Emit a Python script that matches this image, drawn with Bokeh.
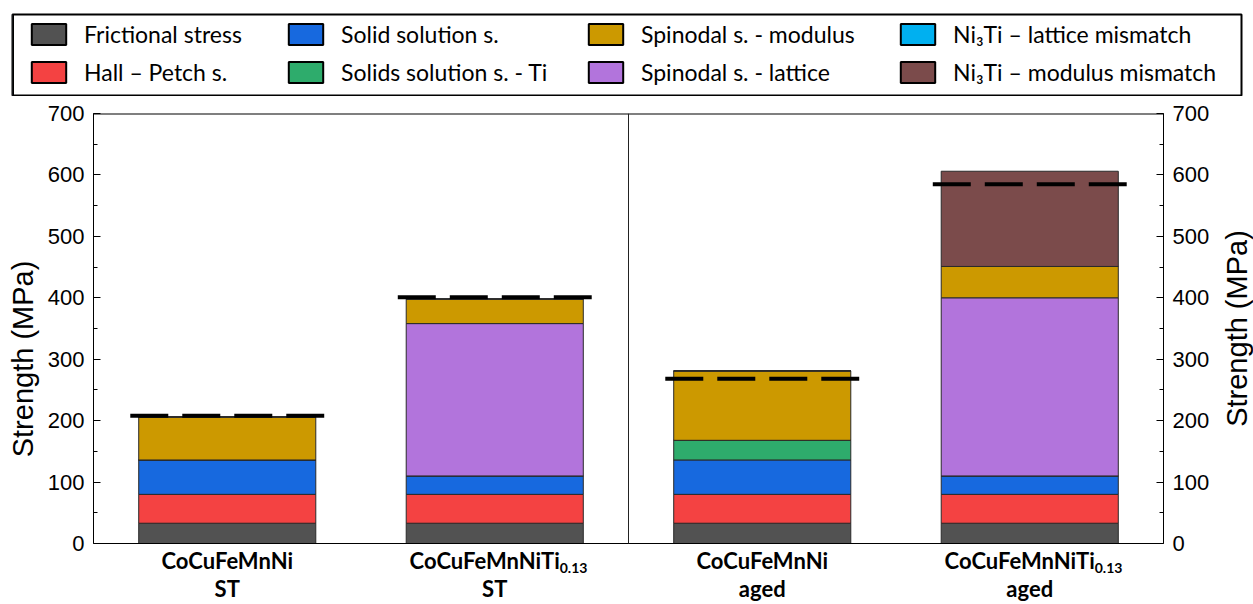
import math
import numpy as np
from bokeh.plotting import figure
from bokeh.models import (Range1d, LinearAxis, SingleIntervalTicker, Legend, LegendItem,
                          ColumnDataSource)
from bokeh.core.properties import value
from bokeh.layouts import column, row
from bokeh.embed import file_html
from bokeh.resources import INLINE

# ---------------- data ----------------
alloys = ["CoCuFeMnNi", "CoCuFeMnNiTi", "CoCuFeMnNi", "CoCuFeMnNiTi"]
alloy_sub = ["", "0.13", "", "0.13"]
states = ["ST", "ST", "aged", "aged"]

frictional = [33, 33, 33, 33]
hall_petch = [47, 47, 47, 47]
solid_sol = [56, 30, 56, 30]
solid_sol_ti = [0, 0, 32, 0]
spin_lattice = [0, 248, 0, 290]
spin_modulus = [70, 40, 113, 51]
ni3ti_lattice = [0, 0, 0, 0]
ni3ti_modulus = [0, 0, 0, 155]
experimental = [208, 401, 268, 585]

series_keys = ["frictional", "hall_petch", "solid_sol", "solid_sol_ti",
               "spin_lattice", "spin_modulus", "ni3ti_lattice", "ni3ti_modulus"]
series_labels = ["Frictional stress", "Hall \u2013 Petch s.", "Solid solution s.",
                 "Solids solution s. - Ti", "Spinodal s. - lattice",
                 "Spinodal s. - modulus", "Ni\u2083Ti \u2013 lattice mismatch",
                 "Ni\u2083Ti \u2013 modulus mismatch"]
series_colors = ["#525252", "#F44242", "#1769DF", "#2EAC6C",
                 "#B274DC", "#CC9900", "#00B0F0", "#7B4B4B"]
legend_order = [0, 1, 2, 3, 5, 4, 6, 7]

y_label = "Strength (MPa)"
y_ticks_interval = 100
y_max = 700

# ---------------- geometry (pixels) ----------------
W = 1253
LAB_W = 40               # strip holding the right-hand axis title
MAIN_W = W - LAB_W
MAIN_H = 508
TOP = 17
PX_ZERO = 430            # pixels from frame top to y = 0
FRAME_H = MAIN_H - TOP   # frame extends to canvas bottom (room for category labels)
px = y_max / PX_ZERO     # data units per pixel
y_min = -(FRAME_H - PX_ZERO) * px

# ---------------- main plot ----------------
n = len(alloys)
xc = np.arange(n) + 0.5
src = ColumnDataSource(dict(x=xc, frictional=frictional, hall_petch=hall_petch,
                            solid_sol=solid_sol, solid_sol_ti=solid_sol_ti,
                            spin_lattice=spin_lattice, spin_modulus=spin_modulus,
                            ni3ti_lattice=ni3ti_lattice, ni3ti_modulus=ni3ti_modulus))

yrange = Range1d(y_min, y_max)
p = figure(width=MAIN_W, height=MAIN_H, x_range=Range1d(0, n), y_range=yrange,
           output_backend="svg", toolbar_location=None, x_axis_type=None,
           min_border_left=93, min_border_right=MAIN_W - 93 - 1070, min_border_top=TOP,
           min_border_bottom=0, outline_line_color=None, frame_align=False)
p.grid.grid_line_color = None
p.background_fill_color = "white"

p.vbar_stack(series_keys, x="x", width=0.662, source=src,
             fill_color=series_colors, line_color="#2a2a2a", line_width=1)

p.segment(x0=xc - 0.3625, x1=xc + 0.3625, y0=experimental, y1=experimental,
          line_color="black", line_width=4, line_dash="38 14")

# frame box (top / bottom) and the centre divider
p.segment(x0=[0, 0], x1=[n, n], y0=[y_max, 0], y1=[y_max, 0],
          line_color="black", line_width=[2, 1])
p.segment(x0=[n / 2], x1=[n / 2], y0=[0], y1=[y_max], line_color="#222222", line_width=1)

ticker = SingleIntervalTicker(interval=y_ticks_interval, num_minor_ticks=2)
yl = p.yaxis[0]
yr = LinearAxis(ticker=ticker)
p.add_layout(yr, "right")
for ax in (yl, yr):
    ax.ticker = ticker
    ax.bounds = (0, y_max)
    ax.axis_label_text_font = "Liberation Sans"
    ax.axis_label_text_font_size = "29px"
    ax.axis_label_text_font_style = "normal"
    ax.axis_label_text_color = "black"
    ax.major_label_text_font = "Liberation Sans"
    ax.major_label_text_font_size = "22px"
    ax.major_label_text_color = "black"
    ax.major_label_standoff = 9
    ax.major_tick_in = 7
    ax.major_tick_out = 0
    ax.minor_tick_in = 4
    ax.minor_tick_out = 0
    ax.axis_line_color = "black"
    ax.major_tick_line_color = "black"
    ax.minor_tick_line_color = "black"
yl.axis_label = y_label
yl.axis_label_standoff = 6

# category labels (drawn below y = 0 inside the extended frame)
y_line1 = -17 * px
y_sub = -24 * px
y_line2 = -45 * px
main_idx = [i for i in range(n) if not alloy_sub[i]]
sub_idx = [i for i in range(n) if alloy_sub[i]]
common = dict(text_font=value("Lato"), text_font_style="bold", text_color="black",
              text_baseline="alphabetic")
p.text(x=xc[main_idx], y=[y_line1] * len(main_idx), text=[alloys[i] for i in main_idx],
       text_align="center", text_font_size="22px", **common)
p.text(x=xc[sub_idx], y=[y_line1] * len(sub_idx), text=[alloys[i] for i in sub_idx],
       text_align="right", x_offset=65, text_font_size="22px", **common)
p.text(x=xc[sub_idx], y=[y_sub] * len(sub_idx), text=[alloy_sub[i] for i in sub_idx],
       text_align="left", x_offset=65, text_font_size="14px", **common)
p.text(x=xc, y=[y_line2] * n, text=states, text_align="center",
       text_font_size="22px", **common)

# ---------------- right-hand axis title strip ----------------
lab = figure(width=LAB_W, height=MAIN_H, x_range=Range1d(0, LAB_W), y_range=yrange,
             x_axis_type=None, y_axis_type=None, output_backend="svg",
             toolbar_location=None, min_border_left=0, min_border_right=0,
             min_border_top=TOP, min_border_bottom=0, outline_line_color=None,
             frame_align=False)
lab.grid.grid_line_color = None
lab.text(x=[LAB_W - 17], y=[y_max / 2], text=[y_label], angle=math.pi / 2,
         text_align="center", text_baseline="middle",
         text_font=value("Liberation Sans"), text_font_size="29px", text_color="black")

# ---------------- legend strip ----------------
LEG_H = 96
leg = figure(width=W, height=LEG_H, x_range=Range1d(0, 1), y_range=Range1d(0, 1),
             x_axis_type=None, y_axis_type=None, output_backend="svg",
             toolbar_location=None, min_border_left=12, min_border_right=12,
             min_border_top=14, min_border_bottom=1,
             outline_line_color="black", outline_line_width=2, frame_align=False)
leg.grid.grid_line_color = None

rends = {}
for k in legend_order:
    rends[k] = leg.vbar(x=[-10], top=[1], width=0.1, fill_color=series_colors[k],
                        line_color="black", line_width=2)

col_x = [15, 272, 572, 884]
for c in range(4):
    ks = legend_order[2 * c: 2 * c + 2]
    items = [LegendItem(label=series_labels[k], renderers=[rends[k]]) for k in ks]
    L = Legend(items=items, location=(col_x[c], 9), orientation="vertical",
               padding=0, margin=0, spacing=10, glyph_width=43, glyph_height=26,
               label_height=26, label_standoff=14, label_text_font="Lato",
               label_text_font_size="23px", label_text_color="black",
               border_line_color=None, background_fill_alpha=0)
    leg.add_layout(L, "center")

layout = column(leg, row(p, lab))
open("out.html", "w").write(file_html(layout, INLINE))
